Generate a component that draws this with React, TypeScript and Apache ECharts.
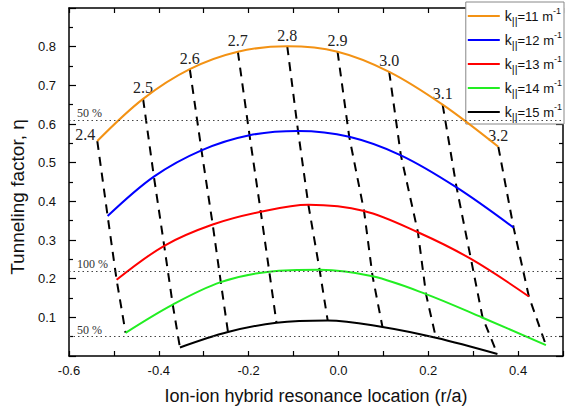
import React, { useEffect, useRef } from 'react';
import * as echarts from 'echarts';

// Frequency labels of the dashed iso-frequency lines
const FREQS = ['2.4', '2.5', '2.6', '2.7', '2.8', '2.9', '3.0', '3.1', '3.2'];
// k|| values (m^-1) of the curves
const K_VALUES = [11, 12, 13, 14, 15];

// Points of each curve at each frequency (null = curve absent there)
const K11_X = [-0.537, -0.435, -0.331, -0.224, -0.114, -0.002, 0.113, 0.232, 0.356];
const K11_Y = [0.556, 0.665, 0.742, 0.787, 0.801, 0.787, 0.735, 0.65, 0.541];
const K12_X = [-0.514, -0.411, -0.305, -0.198, -0.09, 0.024, 0.139, 0.263, 0.39];
const K12_Y = [0.362, 0.464, 0.532, 0.571, 0.582, 0.567, 0.519, 0.436, 0.332];
const K13_X = [-0.494, -0.388, -0.28, -0.173, -0.067, 0.057, 0.177, 0.295, 0.424];
const K13_Y = [0.197, 0.285, 0.34, 0.373, 0.391, 0.375, 0.32, 0.251, 0.154];
const K14_X = [-0.474, -0.369, -0.262, -0.154, -0.042, 0.076, 0.195, 0.321, 0.462];
const K14_Y = [0.06, 0.133, 0.191, 0.218, 0.223, 0.206, 0.16, 0.099, 0.028];
const K15_X = [null, -0.353, -0.246, -0.138, -0.024, 0.098, 0.217, 0.354, null];
const K15_Y = [null, 0.022, 0.062, 0.086, 0.092, 0.075, 0.047, 0.005, null];

// Dotted reference levels
const REF_LEVELS = [0.607, 0.221, 0.05];
const REF_LABELS = ['50 %', '100 %', '50 %'];

const COLORS = ['#F39214', '#0000FF', '#FF0000', '#22EE22', '#000000'];

export default function App() {
  const ref = useRef<HTMLDivElement>(null);
  useEffect(() => {
    if (!ref.current) return;
    const chart = echarts.init(ref.current, null, { renderer: 'svg' });
    const xs: (number | null)[][] = [K11_X, K12_X, K13_X, K14_X, K15_X];
    const ys: (number | null)[][] = [K11_Y, K12_Y, K13_Y, K14_Y, K15_Y];

    const curveSeries = K_VALUES.map((k, i) => {
      const pts: number[][] = [];
      xs[i].forEach((x, j) => {
        if (x !== null && ys[i][j] !== null) pts.push([x, ys[i][j] as number]);
      });
      return {
        name: 'k' + k,
        type: 'line',
        smooth: 0.35,
        symbol: 'none',
        z: 4,
        silent: true,
        lineStyle: { color: COLORS[i], width: 2 },
        itemStyle: { color: COLORS[i] },
        data: pts,
      };
    });

    const dashSeries = FREQS.map((f, j) => {
      const pts: number[][] = [];
      K_VALUES.forEach((_k, i) => {
        if (xs[i][j] !== null && ys[i][j] !== null) pts.push([xs[i][j] as number, ys[i][j] as number]);
      });
      const first = j === 0
        ? { position: 'left', distance: 2, offset: [0, -7] }
        : { position: 'top', distance: 3, offset: [0, 0] };
      return {
        name: 'f' + f,
        type: 'line',
        symbol: 'circle',
        symbolSize: 0,
        showSymbol: true,
        z: 3,
        silent: true,
        lineStyle: { color: '#000', width: 2, type: [9, 7] },
        itemStyle: { color: '#000' },
        data: pts.map((p, idx) =>
          idx === 0
            ? {
                value: p,
                label: {
                  show: true,
                  formatter: f,
                  position: first.position,
                  distance: first.distance,
                  offset: first.offset,
                  fontFamily: 'Liberation Serif',
                  fontSize: 16,
                  color: '#222',
                },
              }
            : p
        ),
      };
    });

    const refSeries = {
      name: 'ref',
      type: 'line',
      data: [],
      silent: true,
      markLine: {
        silent: true,
        symbol: ['none', 'none'],
        lineStyle: { color: '#444', width: 1, type: [1.5, 3] },
        label: {
          position: 'insideStartTop',
          distance: [8, 1],
          fontFamily: 'Liberation Serif',
          fontSize: 12,
          color: '#333',
        },
        data: REF_LEVELS.map((v, i) => ({
          yAxis: v,
          label: { formatter: REF_LABELS[i] },
        })),
      },
    };

    const axisLine = { show: true, onZero: false, lineStyle: { color: '#000', width: 1.5 } };

    chart.setOption({
      animation: false,
      backgroundColor: '#fff',
      grid: { left: 69, right: 2, top: 8, bottom: 52, containLabel: false },
      legend: {
        data: K_VALUES.map((k) => 'k' + k),
        orient: 'vertical',
        right: 2,
        top: 2,
        icon: 'rect',
        itemWidth: 32,
        itemHeight: 2,
        itemGap: 4,
        padding: [4, 2, 2, 2],
        backgroundColor: '#fff',
        borderColor: '#888',
        borderWidth: 1,
        selectedMode: false,
        formatter: (name: string) => `{k|k}{s|||}{t|=${name.slice(1)} m}{p|-1}`,
        textStyle: {
          fontFamily: 'Liberation Sans',
          fontSize: 13,
          color: '#111',
          rich: {
            k: { fontFamily: 'Liberation Sans', fontSize: 14, lineHeight: 20, color: '#111' },
            t: { fontFamily: 'Liberation Sans', fontSize: 13, lineHeight: 20, color: '#111' },
            s: { fontFamily: 'Liberation Sans', fontSize: 11, lineHeight: 11, verticalAlign: 'bottom', color: '#111' },
            p: { fontFamily: 'Liberation Sans', fontSize: 9, lineHeight: 9, verticalAlign: 'top', color: '#111' },
          },
        },
      },
      xAxis: [
        {
          type: 'value',
          position: 'bottom',
          min: -0.6,
          max: 0.5,
          interval: 0.1,
          axisLine,
          axisTick: { show: true, inside: true, length: 5, lineStyle: { color: '#000', width: 1.2 } },
          axisLabel: {
            margin: 8,
            fontFamily: 'Liberation Sans',
            fontSize: 13,
            color: '#111',
            formatter: (v: number) => {
              const k = Math.round(v * 10);
              return k % 2 === 0 ? (k / 10).toFixed(1) : '';
            },
          },
          splitLine: { show: false },
          name: 'Ion-ion hybrid resonance location (r/a)',
          nameLocation: 'middle',
          nameGap: 31,
          nameTextStyle: { fontFamily: 'Liberation Sans', fontSize: 18, color: '#111' },
        },
        {
          type: 'value',
          position: 'top',
          min: -0.6,
          max: 0.5,
          interval: 0.1,
          axisLine,
          axisTick: { show: true, inside: true, length: 5, lineStyle: { color: '#000', width: 1.2 } },
          axisLabel: { show: false },
          splitLine: { show: false },
        },
      ],
      yAxis: [
        {
          type: 'value',
          position: 'left',
          min: 0,
          max: 0.9,
          interval: 0.1,
          axisLine,
          axisTick: { show: true, inside: true, length: 7, lineStyle: { color: '#000', width: 1.2 } },
          minorTick: { show: true, splitNumber: 2, length: 4, lineStyle: { color: '#000', width: 1.2 } },
          axisLabel: {
            margin: 13,
            showMinLabel: false,
            showMaxLabel: false,
            fontFamily: 'Liberation Sans',
            fontSize: 13,
            color: '#111',
            formatter: (v: number) => v.toFixed(1),
          },
          splitLine: { show: false },
          name: 'Tunneling factor, η',
          nameLocation: 'middle',
          nameGap: 42,
          nameTextStyle: { fontFamily: 'Liberation Sans', fontSize: 19, color: '#111', padding: [0, 30, 0, 0] },
        },
        {
          type: 'value',
          position: 'right',
          min: 0,
          max: 0.9,
          interval: 0.1,
          axisLine,
          axisTick: { show: true, inside: true, length: 7, lineStyle: { color: '#000', width: 1.2 } },
          minorTick: { show: true, splitNumber: 2, length: 4, lineStyle: { color: '#000', width: 1.2 } },
          axisLabel: { show: false },
          splitLine: { show: false },
        },
      ],
      series: [refSeries, ...dashSeries, ...curveSeries],
    });
    return () => chart.dispose();
  }, []);

  return (
    <div
      ref={ref}
      style={{ position: 'absolute', left: 0, top: 0, width: 566, height: 410, background: '#fff' }}
    />
  );
}
